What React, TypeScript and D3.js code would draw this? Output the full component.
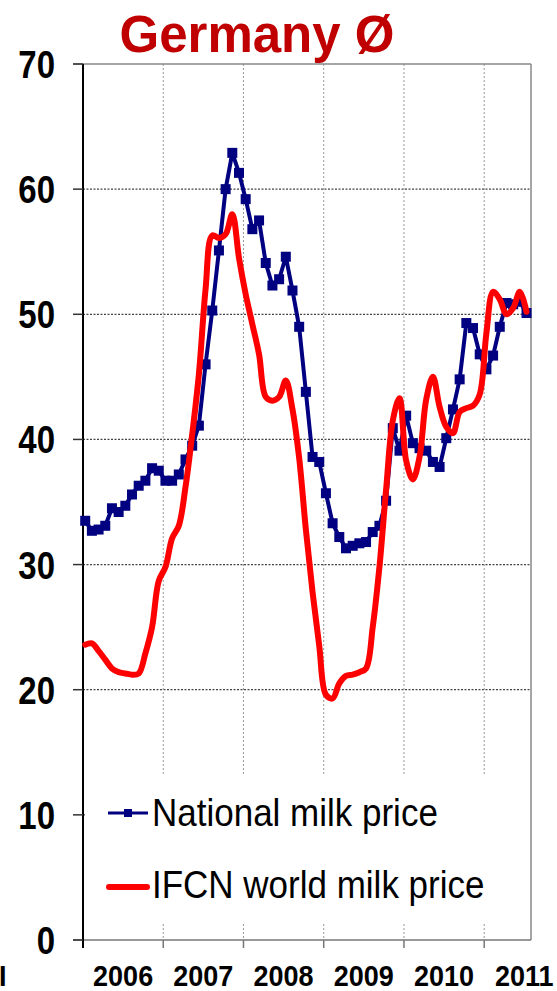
import React from 'react';
import * as d3 from 'd3';

const yearLabels = ['2006', '2007', '2008', '2009', '2010', '2011'];
const yTickValues = [0, 10, 20, 30, 40, 50, 60, 70];

// Monthly values, Jan 2006 .. Jul 2011
const nationalPrice = [
  33.5, 32.7, 32.8, 33.1, 34.5, 34.2, 34.7, 35.6, 36.3, 36.7, 37.7, 37.5,
  36.7, 36.7, 37.2, 38.4, 39.5, 41.1, 46.0, 50.3, 55.1, 60.0, 62.9, 61.3,
  59.2, 56.8, 57.5, 54.1, 52.3, 52.8, 54.6, 51.9, 49.0, 43.8, 38.6, 38.2,
  35.7, 33.3, 32.2, 31.3, 31.5, 31.7, 31.8, 32.6, 33.1, 35.1, 40.9, 39.1,
  41.9, 39.7, 39.3, 39.1, 38.2, 37.8, 40.1, 42.4, 44.8, 49.3, 48.9, 46.8,
  45.6, 46.7, 49.0, 50.9, 50.8, 51.0, 50.1,
];

const worldPrice = [
  23.6, 23.7, 23.1, 22.4, 21.7, 21.4, 21.3, 21.2, 21.3, 22.9, 25.0, 28.7,
  29.8, 32.1, 33.1, 36.2, 40.4, 45.2, 52.0, 56.3, 56.1, 56.4, 58.0, 54.5,
  51.6, 49.2, 46.8, 43.4, 43.1, 43.4, 44.7, 42.4, 38.5, 32.8, 27.8, 23.5,
  19.6, 19.3, 20.5, 21.1, 21.2, 21.4, 21.7, 25.0, 29.8, 36.0, 41.5, 43.3,
  38.3, 36.8, 38.6, 43.2, 45.0, 42.6, 41.0, 40.5, 42.2, 42.5, 42.7, 43.6,
  48.5, 51.8, 51.2, 50.0, 50.5, 51.8, 50.2,
];

const FONT = "'Liberation Sans', Arial, Helvetica, sans-serif";

export default function App() {
  const W = 557;
  const H = 991;
  const left = 83;
  const right = 531;
  const top = 64;
  const bottom = 940;

  const x = d3.scaleLinear().domain([0, 67]).range([left, right]);
  const y = d3.scaleLinear().domain([0, 70]).range([bottom, top]);
  const px = (i: number) => x(i + 0.33);

  const blueLine = d3
    .line<number>()
    .x((_, i) => px(i))
    .y((d) => y(d));
  const redLine = d3
    .line<number>()
    .x((_, i) => px(i))
    .y((d) => y(d))
    .curve(d3.curveCatmullRom.alpha(0.5));

  const yearBounds = d3.range(1, 6).map((k) => x(12 * k));
  const markerSize = 10;

  return (
    <svg
      width={W}
      height={H}
      style={{ position: 'absolute', left: 0, top: 0, background: '#fff' }}
      fontFamily={FONT}
    >
      <rect x={0} y={0} width={W} height={H} fill="#fff" />

      {/* horizontal gridlines */}
      {yTickValues
        .filter((v) => v > 0 && v < 70)
        .map((v) => (
          <line
            key={'hg' + v}
            x1={left}
            x2={right}
            y1={y(v)}
            y2={y(v)}
            stroke="#444"
            strokeWidth={1.2}
            strokeDasharray="2,1.5"
          />
        ))}
      {/* vertical gridlines */}
      {yearBounds.map((bx, i) => (
        <line
          key={'vg' + i}
          x1={bx}
          x2={bx}
          y1={top}
          y2={bottom}
          stroke="#999"
          strokeWidth={1}
          strokeDasharray="2,2"
        />
      ))}

      {/* legend box */}
      <rect x={86} y={776} width={right - 86} height={146} fill="#fff" />

      {/* frame */}
      <line x1={left - 10} x2={right} y1={top} y2={top} stroke="#888" strokeWidth={1.5} />
      <line x1={right} x2={right} y1={top} y2={bottom} stroke="#888" strokeWidth={1.5} />
      <line x1={left - 10} x2={right} y1={bottom} y2={bottom} stroke="#777" strokeWidth={1.5} />
      <line x1={left} x2={left} y1={top} y2={bottom + 8} stroke="#000" strokeWidth={2} />

      {/* y ticks */}
      {yTickValues.map((v) => (
        <g key={'yt' + v}>
          <line x1={left - 10} x2={left} y1={y(v)} y2={y(v)} stroke="#333" strokeWidth={1.5} />
          <text
            transform={`translate(55,${y(v)}) scale(1,1.18)`}
            dy="0.36em"
            textAnchor="end"
            fontWeight="bold"
            fontSize={33}
            fill="#000"
          >
            {v}
          </text>
        </g>
      ))}

      {/* x ticks */}
      {yearBounds.map((bx, i) => (
        <line key={'xt' + i} x1={bx} x2={bx} y1={bottom} y2={bottom + 8} stroke="#777" strokeWidth={1.5} />
      ))}

      {/* year labels */}
      {yearLabels.map((lab, k) => (
        <text
          key={lab}
          transform={`translate(${x(12 * k + 6)},986) scale(1,1.12)`}
          textAnchor="middle"
          fontWeight="bold"
          fontSize={27}
          fill="#000"
        >
          {lab}
        </text>
      ))}
      <text transform="translate(-1,986) scale(1,1.12)" fontWeight="bold" fontSize={27} fill="#000">
        I
      </text>

      {/* national milk price */}
      <path d={blueLine(nationalPrice) || ''} fill="none" stroke="#000080" strokeWidth={4} />
      {nationalPrice.map((v, i) => (
        <rect
          key={'m' + i}
          x={px(i) - markerSize / 2}
          y={y(v) - markerSize / 2}
          width={markerSize}
          height={markerSize}
          fill="#000080"
        />
      ))}

      {/* world milk price */}
      <path
        d={redLine(worldPrice) || ''}
        fill="none"
        stroke="#ff0000"
        strokeWidth={6}
        strokeLinejoin="round"
        strokeLinecap="round"
      />

      {/* legend */}
      <line x1={108} x2={148} y1={813} y2={813} stroke="#000080" strokeWidth={3} />
      <rect x={128 - 4} y={813 - 4} width={8} height={8} fill="#000080" />
      <text transform="translate(152,826) scale(1,1.1)" fontSize={35} fill="#000">
        National milk price
      </text>
      <line x1={109} x2={147} y1={887} y2={887} stroke="#ff0000" strokeWidth={6} strokeLinecap="round" />
      <text transform="translate(152,898) scale(1,1.1)" fontSize={35} fill="#000">
        IFCN world milk price
      </text>

      {/* title */}
      <text x={257} y={52} textAnchor="middle" fontWeight="bold" fontSize={51} fill="#c00000">
        Germany Ø
      </text>
    </svg>
  );
}
